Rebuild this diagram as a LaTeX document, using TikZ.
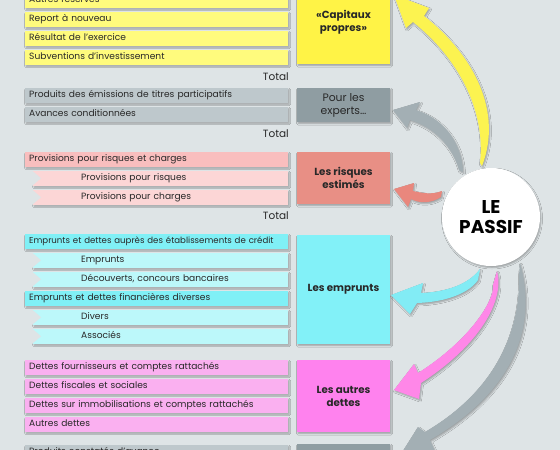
\documentclass[tikz,border=0pt]{standalone}
\usepackage{fontspec}
\setmainfont{Poppins}
\usetikzlibrary{shadows.blur}

\definecolor{fond}{RGB}{222,228,230}
\definecolor{encre}{RGB}{40,40,40}
\definecolor{jligne}{RGB}{255,251,125}
\definecolor{jboite}{RGB}{255,243,70}
\definecolor{jfleche}{RGB}{252,243,80}
\definecolor{gligne}{RGB}{190,200,204}
\definecolor{gboite}{RGB}{143,157,162}
\definecolor{gfleche}{RGB}{163,175,180}
\definecolor{rligne}{RGB}{249,190,190}
\definecolor{rsous}{RGB}{252,214,214}
\definecolor{rboite}{RGB}{232,143,133}
\definecolor{rfleche}{RGB}{233,135,125}
\definecolor{cligne}{RGB}{128,240,246}
\definecolor{csous}{RGB}{188,248,250}
\definecolor{cboite}{RGB}{130,241,248}
\definecolor{cfleche}{RGB}{130,236,245}
\definecolor{pligne}{RGB}{250,176,240}
\definecolor{pboite}{RGB}{255,130,238}
\definecolor{pfleche}{RGB}{255,135,232}

\begin{document}
\begin{tikzpicture}[x=1pt, y=-1pt,
  ombre/.style={blur shadow={shadow xshift=1pt, shadow yshift=-1.5pt, shadow blur radius=1.5pt, shadow opacity=30}},
  ligne/.style={anchor=north west, minimum height=14.5pt, inner ysep=0pt, inner xsep=4pt,
    text width=255pt, align=left, text height=6.8pt, text depth=2pt,
    font=\fontsize{9.1}{11}\selectfont, text=encre, ombre},
  sousligne/.style={ligne, inner xsep=48pt, text width=159pt},
  total/.style={anchor=east, inner sep=0pt, font=\fontsize{10.5}{12}\selectfont, text=encre},
  boite/.style={minimum width=93pt, inner sep=2pt, align=center, text=encre,
    font=\bfseries\fontsize{10.3}{13}\selectfont, ombre},
  fleche/.style={ombre}]

  \fill[fond] (0,0) rectangle (560,450);
  \clip (0,0) rectangle (560,450);
  \useasboundingbox (0,0) rectangle (560,450);

  % capitaux propres
  \node[ligne, fill=jligne] (res)  at (25,-7) {Autres réserves};
  \node[ligne, fill=jligne] (rep)  at (25,12) {Report à nouveau};
  \node[ligne, fill=jligne] (resu) at (25,31) {Résultat de l’exercice};
  \node[ligne, fill=jligne] (subv) at (25,50) {Subventions d’investissement};
  \node[total] (tot1) at (289,77) {Total};

  % experts
  \node[ligne, fill=gligne] (pe) at (25,88)  {Produits des émissions de titres participatifs};
  \node[ligne, fill=gligne] (av) at (25,107) {Avances conditionnées};
  \node[total] (tot2) at (289,134) {Total};

  % risques
  \node[ligne, fill=rligne]    (prc) at (25,152) {Provisions pour risques et charges};
  \node[sousligne, fill=rsous] (pr1) at (33,171) {Provisions pour risques};
  \node[sousligne, fill=rsous] (pr2) at (33,190) {Provisions pour charges};
  \node[total] (tot3) at (289,216) {Total};

  % emprunts
  \node[ligne, fill=cligne, font=\fontsize{8.6}{11}\selectfont] (edc) at (25,234) {Emprunts et dettes auprès des établissements de crédit};
  \node[sousligne, fill=csous] (em1) at (33,253) {Emprunts};
  \node[sousligne, fill=csous] (em2) at (33,272) {Découverts, concours bancaires};
  \node[ligne, fill=cligne]    (edf) at (25,291) {Emprunts et dettes financières diverses};
  \node[sousligne, fill=csous] (em3) at (33,310) {Divers};
  \node[sousligne, fill=csous] (em4) at (33,329) {Associés};

  % autres dettes
  \node[ligne, fill=pligne] (df)  at (25,360) {Dettes fournisseurs et comptes rattachés};
  \node[ligne, fill=pligne] (dfs) at (25,379) {Dettes fiscales et sociales};
  \node[ligne, fill=pligne] (dim) at (25,398) {Dettes sur immobilisations et comptes rattachés};
  \node[ligne, fill=pligne] (ad)  at (25,417) {Autres dettes};
  \node[ligne, fill=gligne] (pca) at (25,445) {Produits constatés d’avance};

  % encoches des sous-lignes
  \foreach \haut in {171,190,253,272,310,329}
    \fill[fond] (32,\haut-0.5) -- (41,\haut+7.25) -- (32,\haut+15) -- cycle;

  % boites de droite
  \node[boite, fill=jboite, minimum height=83pt]  (cap)    at (343.5,22.5) {«Capitaux\\propres»};
  \node[boite, fill=gboite, minimum height=34pt, font=\fontsize{10.8}{13}\selectfont] (exp) at (343.5,105) {Pour les\\experts…};
  \node[boite, fill=rboite, minimum height=52pt]  (risk)   at (343.5,178) {Les risques\\estimés};
  \node[boite, fill=cboite, minimum height=109pt] (empr)   at (343.5,289.5) {Les emprunts};
  \node[boite, fill=pboite, minimum height=72pt]  (dettes) at (343.5,396) {Les autres\\dettes};
  \node[boite, fill=gboite, minimum height=52pt]  (pcab)   at (343.5,470) {};

  % fleches
  \fill[jfleche, fleche] (482,166) .. controls (503,112) and (474,55) .. (424,16) -- (429,8) -- (394,-5)
    -- (406,28) -- (413,22) .. controls (458,58) and (486,110) .. (480,163) -- cycle;
  \fill[gfleche, fleche] (463,172) .. controls (462,140) and (440,117) .. (416,110) -- (420,102) -- (393,110)
    -- (407,128) -- (410,120) .. controls (433,127) and (452,145) .. (459,170) -- cycle;
  \fill[rfleche, fleche] (442,191) .. controls (432,195) and (422,193) .. (413,191) -- (414,183) -- (394,189)
    -- (408,207) -- (411,199) .. controls (420,204) and (432,203) .. (441,197) -- cycle;
  \fill[cfleche, fleche] (480,269) .. controls (468,285) and (445,292) .. (421,293) -- (423,283) -- (391,295)
    -- (410,314) -- (417,303) .. controls (448,302) and (470,292) .. (478,280) -- cycle;
  \fill[pfleche, fleche] (497,271) .. controls (505,300) and (480,345) .. (421,383) -- (419,399) -- (394,390)
    -- (414,364) -- (418,373) .. controls (470,340) and (495,300) .. (493,285) -- cycle;
  \fill[gfleche, fleche] (520,263) .. controls (535,315) and (525,385) .. (430,440) -- (438,458) -- (396,462)
    -- (418,427) -- (425,432) .. controls (505,385) and (520,320) .. (519,275) -- cycle;

  \node[circle, fill=white, minimum size=98pt, inner sep=0pt, align=center, text=black,
    font=\bfseries\fontsize{18.5}{20.5}\selectfont, ombre] (passif) at (491,217) {LE\\PASSIF};
\end{tikzpicture}
\end{document}
